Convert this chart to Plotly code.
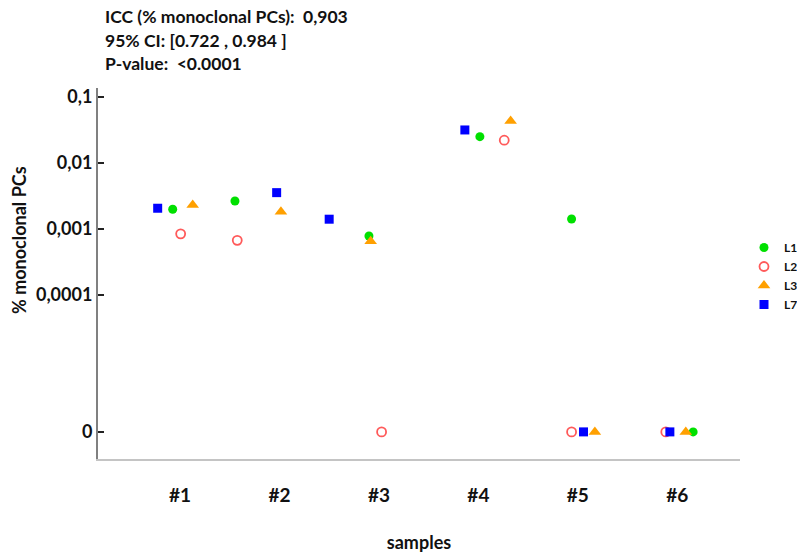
import plotly.graph_objects as go

samples = ["#1", "#2", "#3", "#4", "#5", "#6"]
# % monoclonal PCs per sample (0 = not detected)
L1 = [0.00198, 0.00264, 0.00078, 0.0248, 0.00141, 0]
L2 = [0.00084, 0.00067, 0, 0.0219, 0, 0]
L3 = [0.0023, 0.00182, 0.00065, 0.0427, 0, 0]
L7 = [0.00205, 0.00353, 0.0014, 0.0313, 0, 0]

# horizontal jitter of each series within a sample (display only)
jitter = {
    "L1": [-0.073, -0.447, -0.10, 0.015, -0.063, 0.159],
    "L2": [0.007, -0.424, 0.027, 0.26, -0.063, -0.116],
    "L3": [0.128, 0.015, -0.083, 0.324, 0.171, 0.085],
    "L7": [-0.224, -0.028, -0.50, -0.136, 0.057, -0.075],
}

ZERO_POS = 10 ** -6.07  # where "0" is drawn on the broken log axis
tick_vals = [0.1, 0.01, 0.001, 0.0001, ZERO_POS]
tick_text = ["0,1", "0,01", "0,001", "0,0001", "0"]

FONT = "Lato"

def ypos(vals):
    return [v if v > 0 else ZERO_POS for v in vals]

def xpos(name):
    return [i + 1 + d for i, d in enumerate(jitter[name])]

series = [
    ("L1", L1, dict(symbol="circle", size=9, color="#00e000")),
    ("L2", L2, dict(symbol="circle-open", size=9, color="#ff5a5a", line=dict(width=1.8, color="#ff5a5a"))),
    ("L3", L3, dict(symbol="triangle-up", size=11, color="#ffa000")),
    ("L7", L7, dict(symbol="square", size=9, color="#0000ff")),
]

fig = go.Figure()
for name, vals, mk in series:
    fig.add_trace(go.Scatter(
        x=xpos(name), y=ypos(vals), mode="markers", name=name,
        marker=mk, customdata=vals,
        hovertemplate=name + ": %{customdata}<extra></extra>",
    ))

fig.update_layout(
    width=797, height=553,
    margin=dict(l=98, r=57, t=88, b=94, autoexpand=False),
    paper_bgcolor="white", plot_bgcolor="white",
    font=dict(family=FONT, color="#111"),
    showlegend=True,
    legend=dict(x=744 / 797, y=1 - 233 / 553, xref="container", yref="container",
                xanchor="left", yanchor="top",
                font=dict(size=12, family=FONT, weight="bold", color="#111"),
                itemwidth=30, tracegroupgap=0, bgcolor="rgba(0,0,0,0)"),
)

fig.update_xaxes(
    range=[0.176, 6.63], tickmode="array",
    tickvals=[1, 2, 3, 4, 5, 6], ticktext=samples,
    tickfont=dict(size=19, family=FONT, weight="bold", color="#111"),
    ticks="", ticklabelstandoff=18, automargin=False,
    showline=True, linecolor="#c4c4c4", linewidth=2,
    showgrid=False, zeroline=False,
    title=dict(text="samples", font=dict(size=18, family=FONT, weight="bold", color="#111"),
               standoff=34),
)

fig.update_yaxes(
    type="log", range=[-6.48, -0.87], automargin=False,
    tickmode="array", tickvals=tick_vals, ticktext=tick_text,
    tickfont=dict(size=18, family=FONT, weight="bold", color="#111"),
    ticks="inside", ticklen=6, tickwidth=2, tickcolor="#222",
    showline=True, linecolor="#808080", linewidth=2,
    showgrid=False, zeroline=False,
)

# y-axis title (placed higher than the plot centre, as in the reference)
fig.add_annotation(
    text="% monoclonal PCs", textangle=-90,
    xref="paper", yref="paper",
    x=(19 - 98) / 642, y=(459 - 240) / 371,
    xanchor="center", yanchor="middle", showarrow=False,
    font=dict(size=18, family=FONT, weight="bold", color="#111"),
)

header = ["ICC (% monoclonal PCs):  0,903", "95% CI: [0.722 , 0.984 ]", "P-value:  <0.0001"]
for i, line in enumerate(header):
    fig.add_annotation(
        text=line, xref="paper", yref="paper",
        x=(103 - 98) / 642, y=1 + (88 - (17 + 23.5 * i)) / 371,
        xanchor="left", yanchor="middle", showarrow=False,
        font=dict(size=17.5, family=FONT, weight="bold", color="#111"),
    )

fig.write_html("out.html")
